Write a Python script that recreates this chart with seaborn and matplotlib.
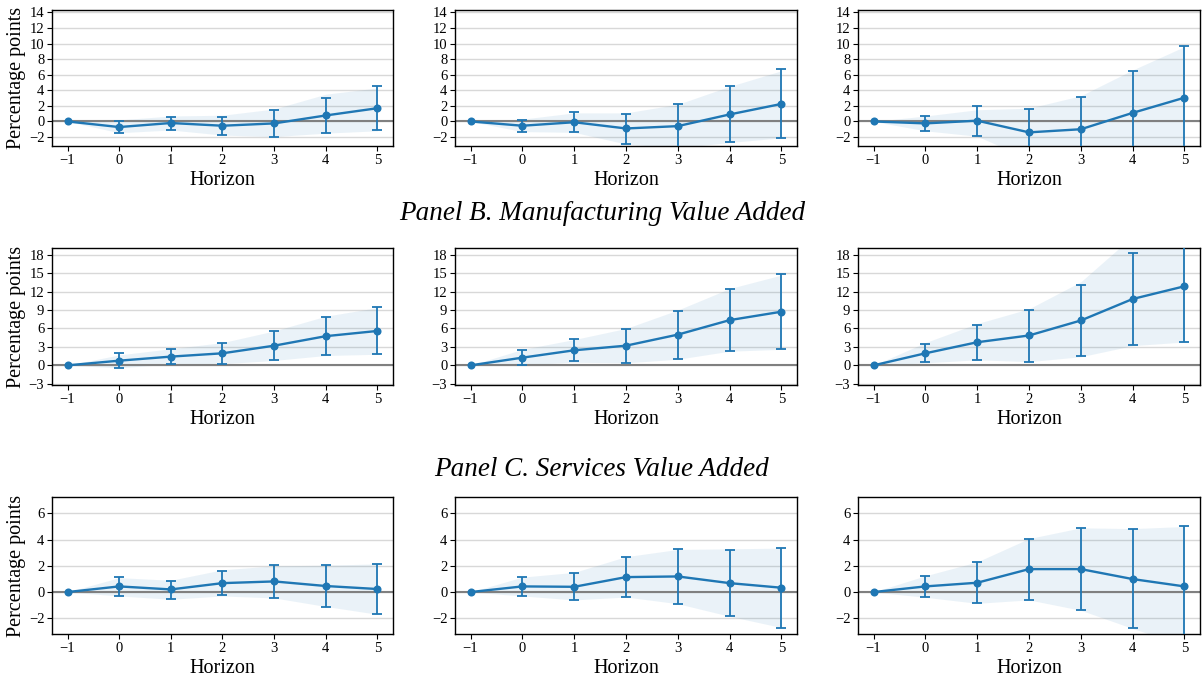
import matplotlib
matplotlib.use("Agg")
import matplotlib.pyplot as plt
import seaborn as sns
import pandas as pd

# ---------------- data ----------------
horizon = [-1, 0, 1, 2, 3, 4, 5]

A1_coef = [0, -0.72, -0.20, -0.55, -0.25, 0.77, 1.70]
A1_lo   = [0, -1.50, -1.06, -1.75, -1.96, -1.50, -1.10]
A1_hi   = [0,  0.08,  0.60,  0.60,  1.45,  2.98,  4.50]
A1_blo  = [0, -1.45, -1.10, -1.75, -1.95, -1.50, -1.20]
A1_bhi  = [0,  0.20,  0.70,  0.80,  1.60,  3.50,  4.30]

A2_coef = [0, -0.55, -0.10, -0.90, -0.60, 0.90, 2.25]
A2_lo   = [0, -1.30, -1.35, -2.90, -3.40, -2.65, -2.10]
A2_hi   = [0,  0.25,  1.20,  1.00,  2.20,  4.50,  6.70]
A2_blo  = [0, -1.30, -1.40, -2.90, -3.40, -2.70, -2.10]
A2_bhi  = [0,  0.30,  1.10,  1.10,  2.20,  4.50,  6.50]

A3_coef = [0, -0.25, 0.10, -1.40, -1.00, 1.10, 3.05]
A3_lo   = [0, -1.20, -1.85, -4.40, -5.20, -4.20, -3.60]
A3_hi   = [0,  0.70,  1.95,  1.60,  3.20,  6.45,  9.65]
A3_blo  = [0, -1.20, -1.90, -4.80, -5.20, -4.20, -3.60]
A3_bhi  = [0,  0.70,  1.50,  1.70,  3.30,  6.60,  9.60]

B1_coef = [0, 0.76, 1.42, 1.96, 3.20, 4.75, 5.60]
B1_lo   = [0, -0.50, 0.22, 0.22, 0.82, 1.64, 1.80]
B1_hi   = [0, 2.00, 2.67, 3.70, 5.56, 7.90, 9.50]
B1_blo  = [0, -0.40, 0.20, 0.25, 0.80, 1.60, 1.80]
B1_bhi  = [0, 1.70, 2.70, 3.70, 5.60, 8.00, 9.40]

B2_coef = [0, 1.25, 2.45, 3.20, 5.00, 7.36, 8.73]
B2_lo   = [0, 0.10, 0.65, 0.44, 1.10, 2.35, 2.67]
B2_hi   = [0, 2.50, 4.30, 5.95, 8.84, 12.40, 14.84]
B2_blo  = [0, 0.10, 0.50, 0.40, 1.00, 2.30, 2.60]
B2_bhi  = [0, 2.60, 4.20, 6.00, 9.00, 12.50, 14.70]

B3_coef = [0, 1.96, 3.76, 4.86, 7.30, 10.80, 12.87]
B3_lo   = [0, 0.50, 0.93, 0.60, 1.47, 3.33, 3.82]
B3_hi   = [0, 3.50, 6.60, 9.06, 13.15, 18.33, 21.90]
B3_blo  = [0, 0.40, 0.90, 0.60, 1.40, 3.20, 3.80]
B3_bhi  = [0, 3.70, 6.80, 9.20, 13.60, 21.00, 22.00]

C1_coef = [0, 0.43, 0.20, 0.68, 0.81, 0.46, 0.23]
C1_lo   = [0, -0.30, -0.50, -0.25, -0.48, -1.11, -1.67]
C1_hi   = [0, 1.14, 0.86, 1.62, 2.05, 2.03, 2.15]
C1_blo  = [0, -0.30, -0.55, -0.30, -0.45, -1.10, -1.70]
C1_bhi  = [0, 1.10, 0.90, 1.70, 2.00, 2.05, 2.15]

C2_coef = [0, 0.43, 0.40, 1.14, 1.19, 0.68, 0.33]
C2_lo   = [0, -0.30, -0.60, -0.38, -0.89, -1.85, -2.71]
C2_hi   = [0, 1.14, 1.44, 2.66, 3.27, 3.24, 3.37]
C2_blo  = [0, -0.30, -0.60, -0.38, -0.89, -1.85, -2.71]
C2_bhi  = [0, 1.14, 1.50, 2.70, 3.25, 3.30, 3.35]

C3_coef = [0, 0.43, 0.71, 1.75, 1.75, 0.99, 0.43]
C3_lo   = [0, -0.40, -0.86, -0.60, -1.39, -2.78, -4.10]
C3_hi   = [0, 1.24, 2.30, 4.08, 4.90, 4.84, 5.00]
C3_blo  = [0, -0.40, -0.86, -0.60, -1.39, -2.78, -4.10]
C3_bhi  = [0, 1.24, 2.30, 4.08, 4.90, 4.84, 5.00]

row_titles = ["", "Panel B. Manufacturing Value Added", "Panel C. Services Value Added"]
row_ylims = [(-3.15, 14.3), (-3.2, 19.1), (-3.2, 7.25)]
row_yticks = [list(range(-2, 15, 2)), list(range(-3, 19, 3)), list(range(-2, 7, 2))]
xlabel = "Horizon"
ylabel = "Percentage points"

panels = [
    [(A1_coef, A1_lo, A1_hi, A1_blo, A1_bhi), (A2_coef, A2_lo, A2_hi, A2_blo, A2_bhi), (A3_coef, A3_lo, A3_hi, A3_blo, A3_bhi)],
    [(B1_coef, B1_lo, B1_hi, B1_blo, B1_bhi), (B2_coef, B2_lo, B2_hi, B2_blo, B2_bhi), (B3_coef, B3_lo, B3_hi, B3_blo, B3_bhi)],
    [(C1_coef, C1_lo, C1_hi, C1_blo, C1_bhi), (C2_coef, C2_lo, C2_hi, C2_blo, C2_bhi), (C3_coef, C3_lo, C3_hi, C3_blo, C3_bhi)],
]

# ---------------- style ----------------
sns.set_theme(style="whitegrid")
plt.rcParams["font.family"] = ["Liberation Serif", "DejaVu Serif"]
plt.rcParams["axes.unicode_minus"] = True
plt.rcParams["text.color"] = "black"
plt.rcParams["axes.labelcolor"] = "black"
plt.rcParams["xtick.color"] = "black"
plt.rcParams["ytick.color"] = "black"

W, H = 1203, 680
fig = plt.figure(figsize=(W / 100, H / 100), dpi=100)

col_px = [(52, 393), (455, 797), (858, 1200)]
row_px = [(10, 146), (248, 385), (497, 634)]
blue = "#1f77b4"

for r in range(3):
    for c in range(3):
        x0, x1 = col_px[c]
        y0, y1 = row_px[r]
        ax = fig.add_axes([x0 / W, 1 - y1 / H, (x1 - x0) / W, (y1 - y0) / H])
        coef, lo, hi, blo, bhi = panels[r][c]
        df = pd.DataFrame({"h": horizon, "coef": coef, "lo": lo, "hi": hi,
                           "blo": blo, "bhi": bhi})
        ax.fill_between(df["h"], df["blo"], df["bhi"], color=blue, alpha=0.09,
                        linewidth=0, zorder=1)
        ax.axhline(0, color="#808080", lw=1.5, zorder=2)
        e = df[df["h"] >= 0]
        ax.errorbar(e["h"], e["coef"], yerr=[e["coef"] - e["lo"], e["hi"] - e["coef"]],
                    fmt="none", ecolor=blue, elinewidth=1.3, capsize=3.6, capthick=1.3,
                    zorder=3)
        sns.lineplot(data=df, x="h", y="coef", ax=ax, color=blue, lw=1.7,
                     marker="o", markersize=5.8, markeredgewidth=0, zorder=4)
        ax.set_xlim(-1.3, 5.3)
        ax.set_ylim(*row_ylims[r])
        ax.set_xticks(horizon)
        ax.set_yticks(row_yticks[r])
        ax.grid(axis="x", visible=False)
        ax.grid(axis="y", color="#d8d8d8", lw=1)
        for s in ax.spines.values():
            s.set_color("black")
            s.set_linewidth(1.0)
        ax.tick_params(axis="both", which="major", length=3.5, width=0.8,
                       direction="out", left=True, bottom=True, labelsize=10.5,
                       pad=2, colors="black")
        ax.set_xlabel(xlabel, fontsize=14.5, labelpad=3)
        if c == 0:
            ax.set_ylabel(ylabel, fontsize=14.5, labelpad=2)
        else:
            ax.set_ylabel("")

fig.text(602 / W, 1 - 213 / H, row_titles[1], ha="center", va="center",
         fontsize=19.5, style="italic")
fig.text(602 / W, 1 - 470 / H, row_titles[2], ha="center", va="center",
         fontsize=19.5, style="italic")

fig.savefig("out.png", dpi=100)
